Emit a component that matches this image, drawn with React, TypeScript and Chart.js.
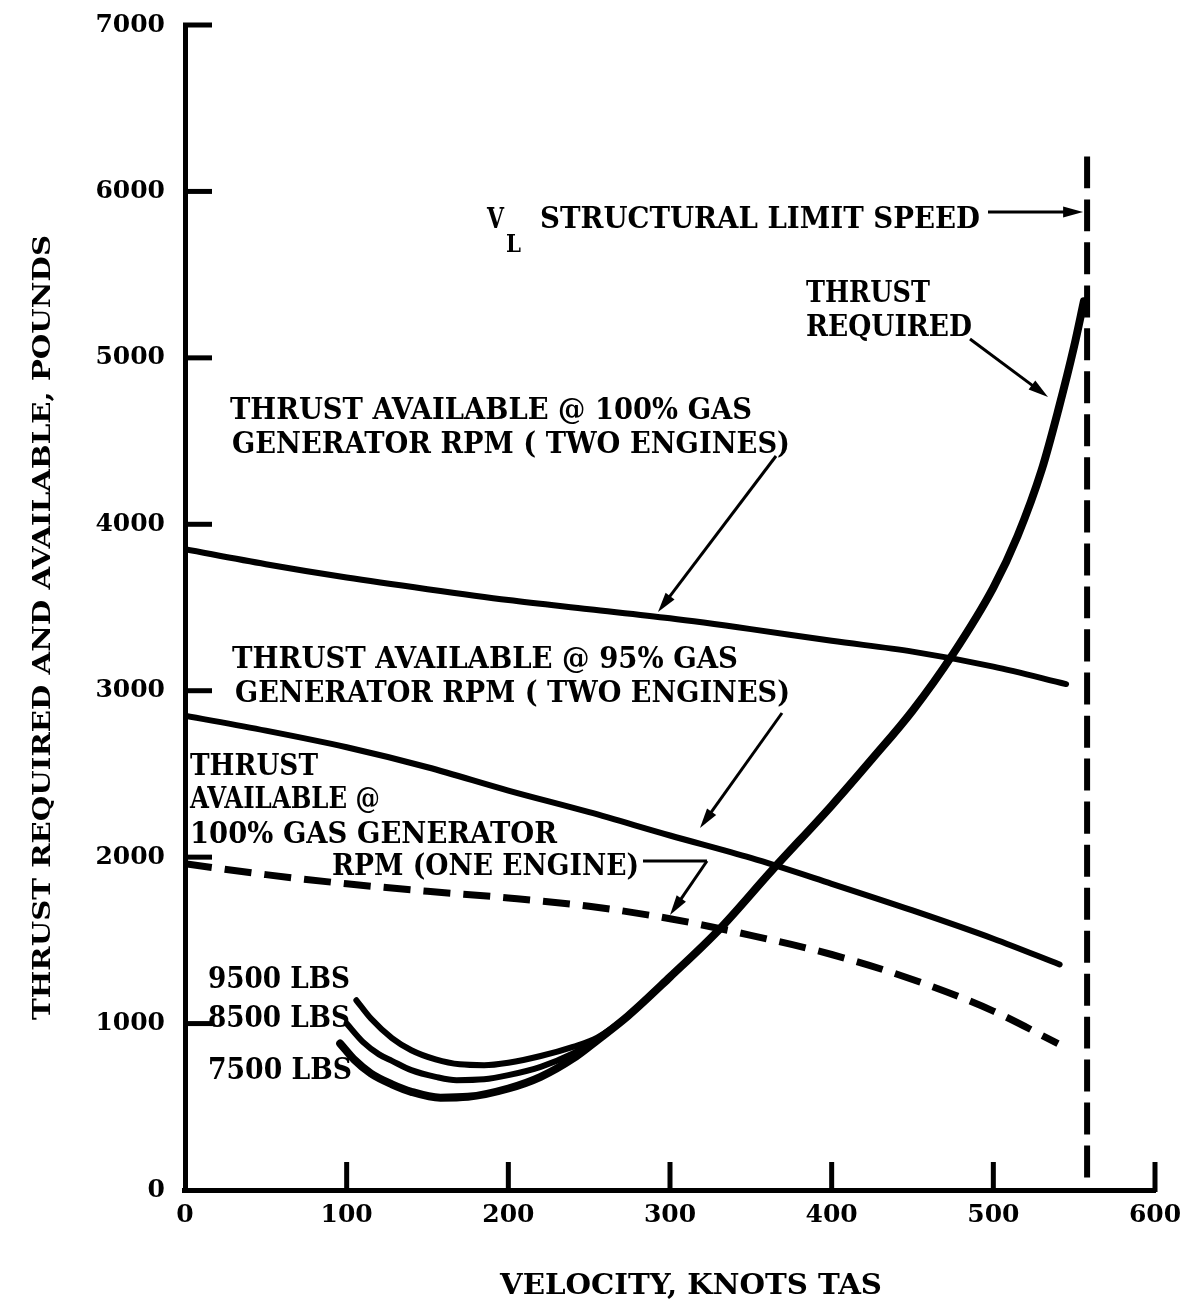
import React, { useEffect, useRef } from 'react';
import { Chart, registerables } from 'chart.js';

Chart.register(...registerables);

// ---- Axis ticks ----
const X_TICKS = [0, 100, 200, 300, 400, 500, 600];
const Y_TICKS = [0, 1000, 2000, 3000, 4000, 5000, 6000, 7000];

// ---- Thrust available @ 100% gas generator rpm (two engines) ----
const AVAIL100_KNOTS = [0, 50, 100, 150, 200, 250, 300, 350, 400, 450, 500, 545];
const AVAIL100_LBS = [3850, 3760, 3680, 3610, 3545, 3490, 3435, 3370, 3300, 3235, 3145, 3040];

// ---- Thrust available @ 95% gas generator rpm (two engines) ----
const AVAIL95_KNOTS = [0, 50, 100, 150, 200, 250, 300, 350, 400, 450, 500, 541];
const AVAIL95_LBS = [2850, 2760, 2660, 2540, 2400, 2270, 2130, 1995, 1840, 1680, 1510, 1355];

// ---- Thrust available @ 100% gas generator rpm (one engine) ----
const ONE_ENG_KNOTS = [0, 50, 100, 150, 200, 250, 300, 350, 400, 450, 500, 540];
const ONE_ENG_LBS = [1960, 1895, 1840, 1795, 1755, 1705, 1630, 1530, 1415, 1265, 1075, 880];

// ---- Thrust required, 7500 lbs (continues as the common curve) ----
const REQ7500_KNOTS = [96, 105, 115, 128, 140, 158, 175, 200, 220, 240, 255, 274, 300, 330, 363, 400, 425, 450, 475, 500, 515, 530, 540, 550, 556];
const REQ7500_LBS = [880, 780, 700, 635, 590, 555, 560, 610, 680, 790, 900, 1046, 1280, 1561, 1920, 2310, 2590, 2880, 3220, 3620, 3930, 4330, 4680, 5070, 5340];

// ---- Thrust required, 8500 lbs ----
const REQ8500_KNOTS = [100, 110, 120, 128, 140, 155, 168, 185, 200, 220, 240, 255, 274, 290];
const REQ8500_LBS = [1000, 890, 815, 776, 720, 680, 660, 665, 690, 740, 820, 905, 1046, 1190];

// ---- Thrust required, 9500 lbs ----
const REQ9500_KNOTS = [106, 115, 128, 140, 155, 170, 185, 200, 220, 240, 255, 274, 290];
const REQ9500_LBS = [1140, 1030, 913, 840, 785, 755, 750, 765, 805, 860, 915, 1046, 1190];

// ---- Structural limit speed (drawn from the top down) ----
const LIMIT_KNOTS = [558, 558];
const LIMIT_LBS = [6210, 0];

const FONT = '"DejaVu Serif", "Liberation Serif", serif';
const INK = '#000';

const pts = (xs: number[], ys: number[]) => xs.map((x, i) => ({ x, y: ys[i] }));

function fitText(ctx: CanvasRenderingContext2D, text: string, x: number, y: number, size: number, width: number) {
  ctx.save();
  ctx.font = `bold ${size}px ${FONT}`;
  ctx.textAlign = 'left';
  ctx.textBaseline = 'alphabetic';
  const w = ctx.measureText(text).width;
  ctx.translate(x, y);
  ctx.scale(width / w, 1);
  ctx.fillStyle = INK;
  ctx.fillText(text, 0, 0);
  ctx.restore();
}

function arrow(ctx: CanvasRenderingContext2D, x1: number, y1: number, x2: number, y2: number, lw = 3, head = 18) {
  const a = Math.atan2(y2 - y1, x2 - x1);
  ctx.save();
  ctx.strokeStyle = INK;
  ctx.fillStyle = INK;
  ctx.lineWidth = lw;
  ctx.beginPath();
  ctx.moveTo(x1, y1);
  ctx.lineTo(x2 - Math.cos(a) * head * 0.6, y2 - Math.sin(a) * head * 0.6);
  ctx.stroke();
  ctx.beginPath();
  ctx.moveTo(x2, y2);
  ctx.lineTo(x2 - Math.cos(a) * head + Math.sin(a) * head * 0.28, y2 - Math.sin(a) * head - Math.cos(a) * head * 0.28);
  ctx.lineTo(x2 - Math.cos(a) * head - Math.sin(a) * head * 0.28, y2 - Math.sin(a) * head + Math.cos(a) * head * 0.28);
  ctx.closePath();
  ctx.fill();
  ctx.restore();
}

const decorPlugin = {
  id: 'decor',
  afterDatasetsDraw(chart: any) {
    const ctx: CanvasRenderingContext2D = chart.ctx;
    const xs = chart.scales.x;
    const ys = chart.scales.y;
    const left = chart.chartArea.left;
    const bottom = chart.chartArea.bottom;

    // inward tick marks
    ctx.save();
    ctx.strokeStyle = INK;
    ctx.lineWidth = 5;
    ctx.lineCap = 'butt';
    Y_TICKS.forEach((v) => {
      if (v === 0) return;
      const py = ys.getPixelForValue(v);
      ctx.beginPath();
      ctx.moveTo(left - 2, py);
      ctx.lineTo(left + 27, py);
      ctx.stroke();
    });
    X_TICKS.forEach((v) => {
      if (v === 0) return;
      const px = xs.getPixelForValue(v);
      ctx.beginPath();
      ctx.moveTo(px, bottom + 2);
      ctx.lineTo(px, bottom - 28);
      ctx.stroke();
    });
    ctx.fillStyle = INK;
    ctx.fillRect(left - 3, bottom - 2, 6, 5);
    ctx.restore();

    // axis titles
    ctx.save();
    ctx.translate(50, 1020);
    ctx.rotate(-Math.PI / 2);
    fitText(ctx, 'THRUST REQUIRED AND AVAILABLE, POUNDS', 0, 0, 25, 785);
    ctx.restore();
    fitText(ctx, 'VELOCITY, KNOTS TAS', 500, 1294, 27, 382);

    // structural limit label
    fitText(ctx, 'V', 487, 228, 28, 17);
    fitText(ctx, 'L', 506, 252, 24, 15);
    fitText(ctx, 'STRUCTURAL LIMIT SPEED', 540, 228, 30, 440);
    arrow(ctx, 988, 212, xs.getPixelForValue(558) - 4, 212, 3, 20);

    // thrust required label
    fitText(ctx, 'THRUST', 806, 302, 30, 124);
    fitText(ctx, 'REQUIRED', 806, 336, 30, 166);
    arrow(ctx, 970, 339, 1048, 397, 3, 20);

    // 100% two engines
    fitText(ctx, 'THRUST AVAILABLE @ 100% GAS', 230, 419, 30, 522);
    fitText(ctx, 'GENERATOR RPM ( TWO ENGINES)', 232, 453, 30, 558);
    arrow(ctx, 776, 456, 658, 612, 3, 20);

    // 95% two engines
    fitText(ctx, 'THRUST AVAILABLE @ 95% GAS', 232, 668, 30, 506);
    fitText(ctx, 'GENERATOR RPM ( TWO ENGINES)', 235, 702, 30, 555);
    arrow(ctx, 782, 713, 700, 828, 3, 20);

    // one engine
    fitText(ctx, 'THRUST', 190, 775, 30, 128);
    fitText(ctx, 'AVAILABLE @', 190, 808, 30, 190);
    fitText(ctx, '100% GAS GENERATOR', 190, 843, 30, 367);
    fitText(ctx, 'RPM (ONE ENGINE)', 332, 875, 30, 307);
    ctx.save();
    ctx.strokeStyle = INK;
    ctx.lineWidth = 3;
    ctx.beginPath();
    ctx.moveTo(643, 861);
    ctx.lineTo(707, 861);
    ctx.stroke();
    ctx.restore();
    arrow(ctx, 707, 861, 670, 915, 3, 20);

    // weights
    fitText(ctx, '9500 LBS', 208, 988, 30, 142);
    fitText(ctx, '8500 LBS', 208, 1027, 30, 142);
    fitText(ctx, '7500 LBS', 208, 1079, 30, 144);
  },
};

export default function App() {
  const ref = useRef<HTMLCanvasElement | null>(null);

  useEffect(() => {
    if (!ref.current) return;
    const tickFont = { family: FONT, size: 25, weight: 'bold' as const };
    const line = (data: any[], width: number, dash: number[] = [], cap: CanvasLineCap = 'round') => ({
      data,
      borderColor: INK,
      backgroundColor: INK,
      borderWidth: width,
      borderDash: dash,
      borderCapStyle: cap,
      pointRadius: 0,
      fill: false,
      cubicInterpolationMode: 'monotone' as const,
    });
    const chart = new Chart(ref.current, {
      type: 'line',
      data: {
        datasets: [
          { label: 'Thrust available 100% (two engines)', ...line(pts(AVAIL100_KNOTS, AVAIL100_LBS), 6) },
          { label: 'Thrust available 95% (two engines)', ...line(pts(AVAIL95_KNOTS, AVAIL95_LBS), 6) },
          { label: 'Thrust available 100% (one engine)', ...line(pts(ONE_ENG_KNOTS, ONE_ENG_LBS), 7, [27, 13], 'butt') },
          { label: '9500 LBS', ...line(pts(REQ9500_KNOTS, REQ9500_LBS), 6) },
          { label: '8500 LBS', ...line(pts(REQ8500_KNOTS, REQ8500_LBS), 6) },
          { label: 'Thrust required (7500 LBS)', ...line(pts(REQ7500_KNOTS, REQ7500_LBS), 8) },
          { label: 'VL structural limit speed', ...line(pts(LIMIT_KNOTS, LIMIT_LBS), 6, [32, 11], 'butt') },
        ],
      },
      options: {
        responsive: false,
        animation: false,
        devicePixelRatio: 1,
        layout: { padding: { left: 0, top: 25, right: 37, bottom: 0 } },
        plugins: { legend: { display: false }, tooltip: { enabled: false } },
        scales: {
          x: {
            type: 'linear',
            min: 0,
            max: 600,
            afterFit: (s: any) => { s.height = 1308 - 1190; s.paddingLeft = 0; s.paddingRight = 0; },
            ticks: {
              stepSize: 100, font: tickFont, color: INK, padding: 10, maxRotation: 0, autoSkip: false,
              callback: (v: any) => String(v),
            },
            grid: { display: false, drawTicks: false },
            border: { display: true, color: INK, width: 5 },
          },
          y: {
            type: 'linear',
            min: 0,
            max: 7000,
            afterFit: (s: any) => { s.width = 185; s.paddingTop = 0; s.paddingBottom = 0; },
            ticks: {
              stepSize: 1000, font: tickFont, color: INK, padding: 20, autoSkip: false,
              callback: (v: any) => String(v),
            },
            grid: { display: false, drawTicks: false },
            border: { display: true, color: INK, width: 5 },
          },
        },
      },
      plugins: [decorPlugin],
    });
    return () => chart.destroy();
  }, []);

  return (
    <div style={{ position: 'absolute', left: 0, top: 0, width: 1192, height: 1308, background: '#fff' }}>
      <canvas ref={ref} width={1192} height={1308} style={{ display: 'block' }} />
    </div>
  );
}
